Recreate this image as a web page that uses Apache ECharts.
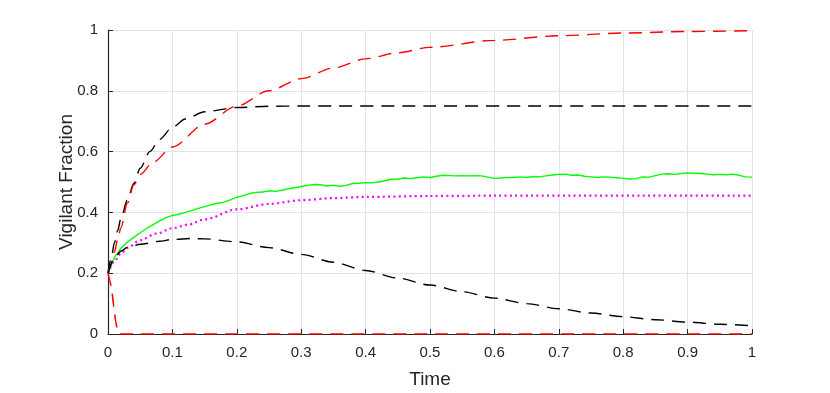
<!DOCTYPE html>
<html>
<head>
<meta charset="utf-8">
<script src="https://cdn.jsdelivr.net/npm/echarts@6/dist/echarts.min.js"></script>
<style>
  html, body { margin: 0; padding: 0; background: #fff; }
  #chart { width: 830px; height: 393px; }
</style>
</head>
<body>
<div id="chart"></div>
<script>
// red dashed, rising to 1
const redUpT = [0, 0.005, 0.01, 0.015, 0.02, 0.03, 0.04, 0.05, 0.07, 0.1, 0.15, 0.2, 0.25, 0.3, 0.35, 0.4, 0.45, 0.5, 0.6, 0.7, 0.8, 0.9, 1];
const redUpV = [0.2, 0.23, 0.27, 0.31, 0.35, 0.43, 0.49, 0.525, 0.565, 0.615, 0.69, 0.75, 0.8, 0.84, 0.875, 0.905, 0.925, 0.943, 0.966, 0.981, 0.99, 0.995, 0.998];

// black dashed, levelling off at 0.75
const blackUpT = [0, 0.005, 0.01, 0.015, 0.02, 0.03, 0.04, 0.05, 0.065, 0.08, 0.1, 0.12, 0.15, 0.2, 0.25, 0.3, 0.5, 1];
const blackUpV = [0.2, 0.25, 0.3, 0.34, 0.38, 0.44, 0.495, 0.545, 0.6, 0.64, 0.68, 0.707, 0.731, 0.745, 0.749, 0.75, 0.75, 0.75];

// green solid (simulation), sampled every 0.01
const greenV = [
  0.200, 0.252, 0.282, 0.302, 0.318, 0.333, 0.347, 0.360, 0.372, 0.383,
  0.390, 0.394, 0.400, 0.406, 0.413, 0.419, 0.425, 0.430, 0.434, 0.441,
  0.450, 0.455, 0.462, 0.466, 0.467, 0.471, 0.469, 0.473, 0.478, 0.481,
  0.485, 0.489, 0.492, 0.491, 0.487, 0.489, 0.486, 0.489, 0.495, 0.496,
  0.498, 0.497, 0.500, 0.504, 0.509, 0.510, 0.513, 0.511, 0.514, 0.517,
  0.515, 0.519, 0.522, 0.521, 0.520, 0.521, 0.520, 0.521, 0.520, 0.516,
  0.512, 0.513, 0.515, 0.515, 0.517, 0.515, 0.518, 0.517, 0.520, 0.523,
  0.525, 0.526, 0.522, 0.523, 0.519, 0.517, 0.515, 0.517, 0.516, 0.514,
  0.512, 0.510, 0.511, 0.517, 0.516, 0.521, 0.526, 0.527, 0.525, 0.528,
  0.530, 0.529, 0.528, 0.526, 0.524, 0.525, 0.524, 0.526, 0.522, 0.517,
  0.516
];

// magenta dotted
const magentaT = [0, 0.01, 0.02, 0.03, 0.05, 0.075, 0.1, 0.125, 0.15, 0.2, 0.25, 0.3, 0.35, 0.4, 0.5, 0.6, 1];
const magentaV = [0.2, 0.24, 0.265, 0.283, 0.309, 0.33, 0.348, 0.36, 0.377, 0.41, 0.428, 0.44, 0.447, 0.451, 0.454, 0.455, 0.455];

// black dashed, rising then decaying
const blackLowT = [0, 0.01, 0.02, 0.03, 0.05, 0.08, 0.1, 0.13, 0.15, 0.2, 0.25, 0.3, 0.35, 0.4, 0.45, 0.5, 0.55, 0.6, 0.65, 0.7, 0.75, 0.8, 0.85, 0.9, 0.95, 1];
const blackLowV = [0.2, 0.25, 0.272, 0.285, 0.295, 0.305, 0.311, 0.314, 0.313, 0.303, 0.284, 0.262, 0.236, 0.209, 0.184, 0.161, 0.139, 0.118, 0.1, 0.083, 0.069, 0.057, 0.047, 0.039, 0.032, 0.027];

// red dashed, dropping to 0
const redLowT = [0, 0.003, 0.006, 0.009, 0.012, 0.015, 0.018, 0.5, 1];
const redLowV = [0.2, 0.175, 0.14, 0.09, 0.04, 0.008, 0, 0, 0];

const xTicks = [0, 0.1, 0.2, 0.3, 0.4, 0.5, 0.6, 0.7, 0.8, 0.9, 1];
const yTicks = [0, 0.2, 0.4, 0.6, 0.8, 1];

function zip(ts, vs) {
  return ts.map((t, i) => [t, vs[i]]);
}
const greenData = greenV.map((v, i) => [i / 100, v]);

const font = 'Liberation Sans, Arial, sans-serif';
const textColor = '#262626';

function line(name, data, color, type, width, smooth) {
  return {
    name: name,
    type: 'line',
    data: data,
    symbol: 'none',
    smooth: smooth,
    smoothMonotone: 'x',
    lineStyle: { color: color, width: width, type: type },
    z: 3
  };
}

const chart = echarts.init(document.getElementById('chart'));
chart.setOption({
  animation: false,
  backgroundColor: '#fff',
  grid: { left: 108, right: 78, top: 30, bottom: 59, outerBoundsMode: 'none' },
  xAxis: {
    type: 'value',
    min: xTicks[0],
    max: xTicks[xTicks.length - 1],
    interval: 0.1,
    name: 'Time',
    nameLocation: 'middle',
    nameGap: 36,
    nameMoveOverlap: false,
    nameTextStyle: { fontFamily: font, fontSize: 19, color: textColor },
    axisLine: { show: true, lineStyle: { color: textColor, width: 1.2 } },
    axisTick: { show: true, inside: true, length: 5, lineStyle: { color: textColor } },
    axisLabel: { fontFamily: font, fontSize: 15, color: textColor, margin: 11 },
    splitLine: { show: true, lineStyle: { color: '#e3e3e3', width: 1 } }
  },
  yAxis: {
    type: 'value',
    min: yTicks[0],
    max: yTicks[yTicks.length - 1],
    interval: 0.2,
    name: 'Vigilant Fraction',
    nameLocation: 'middle',
    nameGap: 32,
    nameMoveOverlap: false,
    nameTextStyle: { fontFamily: font, fontSize: 19, color: textColor },
    axisLine: { show: true, lineStyle: { color: textColor, width: 1.2 } },
    axisTick: { show: true, inside: true, length: 5, lineStyle: { color: textColor } },
    axisLabel: { fontFamily: font, fontSize: 15, color: textColor, margin: 10 },
    splitLine: { show: true, lineStyle: { color: '#e3e3e3', width: 1 } }
  },
  series: [
    line('blackUp', zip(blackUpT, blackUpV), '#000000', [13, 8], 1.4, 0.3),
    line('redUp', zip(redUpT, redUpV), '#ff0000', [13, 8], 1.4, 0.3),
    line('green', greenData, '#00ff00', 'solid', 1.4, false),
    line('magenta', zip(magentaT, magentaV), '#ff00ff', [2, 3.3], 2.2, 0.3),
    line('blackLow', zip(blackLowT, blackLowV), '#000000', [13, 8], 1.4, 0.3),
    line('redLow', zip(redLowT, redLowV), '#ff0000', [13, 8], 1.6, 0.2)
  ]
});
</script>
</body>
</html>
